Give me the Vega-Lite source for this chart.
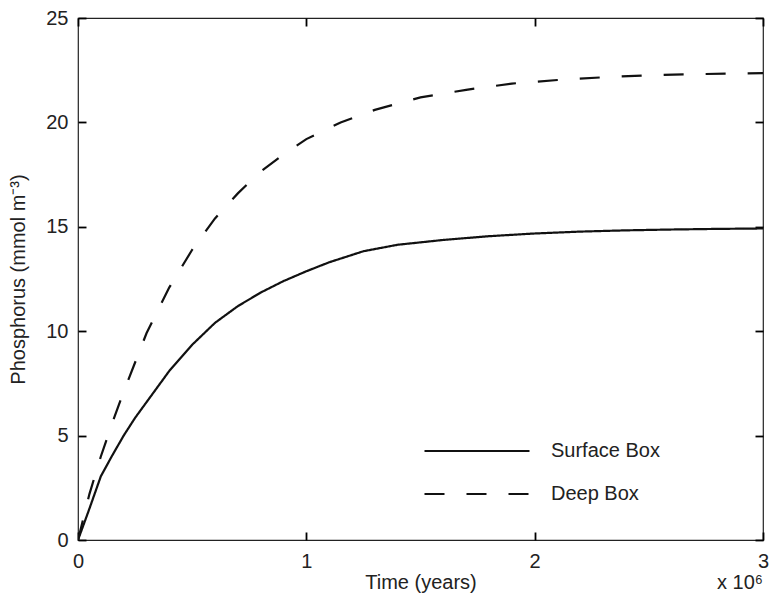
{
  "$schema": "https://vega.github.io/schema/vega-lite/v6.json",
  "width": 685,
  "height": 522,
  "autosize": "none",
  "padding": {"left": 78, "top": 18, "right": 6, "bottom": 59},
  "background": "white",
  "config": {
    "font": "Liberation Sans",
    "view": {"stroke": "#222", "strokeWidth": 1.2},
    "axis": {
      "domain": false,
      "grid": false,
      "labelFlush": false,
      "labelFont": "Liberation Sans",
      "labelFontSize": 20,
      "labelColor": "#222",
      "titleFont": "Liberation Sans",
      "titleFontSize": 20,
      "titleFontWeight": "normal",
      "titleColor": "#222"
    }
  },
  "layer": [
    {
      "data": {
        "values": [
          {"t": 0, "value": 0, "series": "Surface Box"},
          {"t": 50000, "value": 1.5, "series": "Surface Box"},
          {"t": 100000, "value": 3.05, "series": "Surface Box"},
          {"t": 150000, "value": 4.05, "series": "Surface Box"},
          {"t": 200000, "value": 5.0, "series": "Surface Box"},
          {"t": 250000, "value": 5.85, "series": "Surface Box"},
          {"t": 300000, "value": 6.6, "series": "Surface Box"},
          {"t": 400000, "value": 8.1, "series": "Surface Box"},
          {"t": 500000, "value": 9.35, "series": "Surface Box"},
          {"t": 600000, "value": 10.4, "series": "Surface Box"},
          {"t": 700000, "value": 11.2, "series": "Surface Box"},
          {"t": 800000, "value": 11.85, "series": "Surface Box"},
          {"t": 900000, "value": 12.4, "series": "Surface Box"},
          {"t": 1000000, "value": 12.87, "series": "Surface Box"},
          {"t": 1100000, "value": 13.3, "series": "Surface Box"},
          {"t": 1250000, "value": 13.83, "series": "Surface Box"},
          {"t": 1400000, "value": 14.14, "series": "Surface Box"},
          {"t": 1600000, "value": 14.37, "series": "Surface Box"},
          {"t": 1800000, "value": 14.55, "series": "Surface Box"},
          {"t": 2000000, "value": 14.68, "series": "Surface Box"},
          {"t": 2200000, "value": 14.77, "series": "Surface Box"},
          {"t": 2400000, "value": 14.83, "series": "Surface Box"},
          {"t": 2600000, "value": 14.87, "series": "Surface Box"},
          {"t": 2800000, "value": 14.9, "series": "Surface Box"},
          {"t": 3000000, "value": 14.92, "series": "Surface Box"},
          {"t": 0, "value": 0, "series": "Deep Box"},
          {"t": 50000, "value": 2.2, "series": "Deep Box"},
          {"t": 100000, "value": 4.0, "series": "Deep Box"},
          {"t": 150000, "value": 5.6, "series": "Deep Box"},
          {"t": 200000, "value": 7.1, "series": "Deep Box"},
          {"t": 250000, "value": 8.5, "series": "Deep Box"},
          {"t": 300000, "value": 9.9, "series": "Deep Box"},
          {"t": 400000, "value": 12.1, "series": "Deep Box"},
          {"t": 500000, "value": 13.9, "series": "Deep Box"},
          {"t": 600000, "value": 15.4, "series": "Deep Box"},
          {"t": 700000, "value": 16.6, "series": "Deep Box"},
          {"t": 800000, "value": 17.65, "series": "Deep Box"},
          {"t": 900000, "value": 18.47, "series": "Deep Box"},
          {"t": 1000000, "value": 19.2, "series": "Deep Box"},
          {"t": 1150000, "value": 20.0, "series": "Deep Box"},
          {"t": 1300000, "value": 20.6, "series": "Deep Box"},
          {"t": 1500000, "value": 21.2, "series": "Deep Box"},
          {"t": 1700000, "value": 21.56, "series": "Deep Box"},
          {"t": 1900000, "value": 21.86, "series": "Deep Box"},
          {"t": 2100000, "value": 22.03, "series": "Deep Box"},
          {"t": 2300000, "value": 22.16, "series": "Deep Box"},
          {"t": 2500000, "value": 22.26, "series": "Deep Box"},
          {"t": 2700000, "value": 22.31, "series": "Deep Box"},
          {"t": 3000000, "value": 22.36, "series": "Deep Box"}
        ]
      },
      "mark": {"type": "line", "color": "#111", "strokeWidth": 2.2, "clip": true},
      "encoding": {
        "x": {
          "field": "t",
          "type": "quantitative",
          "scale": {"domain": [0, 3000000], "nice": false, "zero": false},
          "axis": {
            "orient": "bottom",
            "values": [0, 1000000, 2000000, 3000000],
            "labelExpr": "datum.value / 1000000",
            "ticks": true,
            "tickSize": -8,
            "tickColor": "#000",
            "tickWidth": 1.8,
            "labelPadding": 19,
            "title": "Time (years)",
            "titlePadding": 1
          }
        },
        "y": {
          "field": "value",
          "type": "quantitative",
          "scale": {"domain": [0, 25], "nice": false},
          "axis": {
            "orient": "left",
            "values": [0, 5, 10, 15, 20, 25],
            "ticks": true,
            "tickSize": -8,
            "tickColor": "#000",
            "tickWidth": 1.8,
            "labelPadding": 18,
            "title": "Phosphorus (mmol m⁻³)",
            "titlePadding": 17
          }
        },
        "strokeDash": {
          "field": "series",
          "type": "nominal",
          "scale": {"domain": ["Surface Box", "Deep Box"], "range": [[1, 0], [20, 22]]},
          "legend": {
            "title": null,
            "orient": "none",
            "legendX": 345,
            "legendY": 422,
            "padding": 0,
            "symbolType": "stroke",
            "symbolSize": 11025,
            "symbolStrokeWidth": 2.2,
            "symbolStrokeColor": "#111",
            "symbolFillColor": "transparent",
            "labelFont": "Liberation Sans",
            "labelFontSize": 20,
            "labelColor": "#222",
            "labelOffset": 20,
            "clipHeight": 22,
            "rowPadding": 21
          }
        }
      }
    },
    {
      "data": {"values": [{"label": "x 10⁶"}]},
      "mark": {"type": "text", "align": "right", "baseline": "middle", "dy": 43, "dx": 0, "fontSize": 20, "color": "#222", "font": "Liberation Sans"},
      "encoding": {
        "x": {
          "datum": 3000000,
          "type": "quantitative",
          "axis": {"orient": "top", "values": [0, 1000000, 2000000, 3000000], "labels": false, "title": null, "ticks": true, "tickSize": -8, "tickColor": "#000", "tickWidth": 1.8}
        },
        "y": {
          "datum": 0,
          "type": "quantitative",
          "axis": {"orient": "right", "values": [0, 5, 10, 15, 20, 25], "labels": false, "title": null, "ticks": true, "tickSize": -8, "tickColor": "#000", "tickWidth": 1.8}
        },
        "text": {"field": "label"}
      }
    }
  ],
  "resolve": {"axis": {"x": "independent", "y": "independent"}}
}
